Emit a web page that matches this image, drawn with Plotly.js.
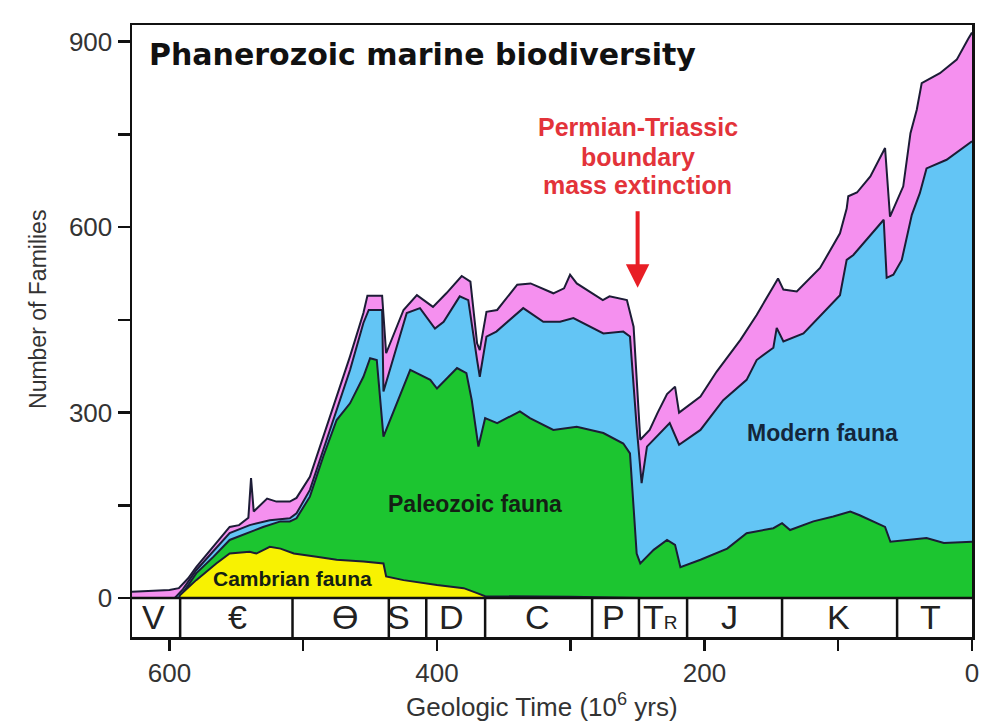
<!DOCTYPE html>
<html>
<head>
<meta charset="utf-8">
<script src="https://cdn.plot.ly/plotly-3.0.1.min.js"></script>
<style>html,body{margin:0;padding:0;background:#fff;}#chart{width:985px;height:724px;}</style>
</head>
<body>
<div id="chart"></div>
<script>
// Age in millions of years before present (x) and cumulative number of families (y)
// Top of the total (all faunas incl. unclassified, pink)
const totalAge = [628,600,593,586,580,567,555,548,541,539,537,527,520,510,505,495,485,475,465,455,452,441,438,425,415,403,393,381.5,375,370,368,363,355,340,330,313,305,300.5,295.5,276,271,258,253,248,241,235,228,222,219,203,191,173,161,148.5,145,141,131,113.6,98.7,93.7,92.5,86,76,65,61.3,51.4,46,41.3,37.6,24,11.4,2.7,0];
const totalTop = [10,13,16,32,50,83,115,118,130,194,140,161,156,156,162,196,261,326,391,461,489,489,396,466,490,471,493,521,512,412,401,463,466,507,509,493,501,523,509,482,488,482,439,256,272,300,330,342,300,326,366,418,458,504,517,499,496,534,590,630,650,656,682,728,617,666,752,790,833,849,871,905,915];

// Top of the Modern fauna (blue), cumulative
const modernAge = [596,590,580,567,555,540,525,510,505,495,485,475,465,455,451,441,440,422.6,412.7,401.5,395,383,376.6,370,368,363,355.6,335.5,320.5,308,298,275.6,260.7,255.7,250.7,247,243,226,219,203,186,168.5,161,148.5,146,141,126,98.7,93.7,88.7,66,63.8,58.8,52.5,45,39,34,19,0];
const modernTop = [0,14,45,76,105,118,126,129,137,175,240,304,369,445,466,466,334,461,469,436,447,488,482,385,358,423,431,469,447,447,453,428,431,423,277,186,245,283,248,272,320,353,385,405,437,415,428,490,547,555,612,518,523,547,620,655,695,709,739];

// Top of the Paleozoic fauna (green), cumulative
const paleoAge = [592,590,580,567,555,542,530,517,510,505,495,485,475,465,455,450,445,440,420,405,400,385,378,374,369,364,355,338,330.5,313,295.5,275.6,260.7,255.7,250.7,248,238,228,222,218,203,183,168.5,148.5,142,136,118.6,103.7,91,84,65,61,46,34,21,0];
const paleoTop = [0,8,40,67,94,105,115,124,124,129,164,229,288,315,358,388,385,261,369,353,339,372,364,320,245,291,283,302,291,272,277,267,250,234,72,56,78,94,86,50,62,80,105,113,121,110,124,132,140,134,115,91,94,97,89,91];

// Top of the Cambrian fauna (yellow)
const cambAge = [593,592,580,565,555,540,535,525,517,507,490,475,455,440,438,425,400,380,370,364,300,250,248];
const cambTop = [0,5,29,56,72,75,72,83,80,72,67,62,59,56,35,29,21,16,8,3,2,1,0];

// Geologic periods: boundaries (Myr) and symbols
const periodBounds = [592,508,436,408,364,284,249,213,142,56];
const periodCenters = [612,549.5,469,428.5,389.5,325,268,233,181,100,31];
const periodLabels = ['V','\u20AC','\u019F','S','D','C','P','T<span style="font-size:19px">R</span>','J','K','T'];

const faunaNames = ['Cambrian fauna','Paleozoic fauna','Modern fauna'];
const faunaLabelPos = [[507.7,31],[371.6,152],[111.4,267]];
const faunaLabelSize = [21,23,23];

const redLines = ['Permian-Triassic','boundary','mass extinction'];
const redY = [762,714,668];

const edge = '#1c1c36';
function area(x, y, fill, name){
  return {x:x, y:y, type:'scatter', mode:'lines', fill:'tozeroy', fillcolor:fill,
    line:{color:edge, width:2}, name:name, hoverinfo:'skip', showlegend:false};
}
const data = [
  area(totalAge,totalTop,'#f590ef','Total'),
  area(modernAge,modernTop,'#63c5f5','Modern'),
  area(paleoAge,paleoTop,'#1cc530','Paleozoic'),
  area(cambAge,cambTop,'#f8f201','Cambrian')
];

const axisFont = {family:'Liberation Sans, Arial, sans-serif', size:26, color:'#333'};
const shapes = [{type:'line', xref:'x', yref:'y', x0:628, x1:0, y0:0, y1:0, line:{color:'#111', width:2.5}}];
periodBounds.forEach(b => shapes.push({type:'line', xref:'x', yref:'y', x0:b, x1:b, y0:-63, y1:0, line:{color:'#111', width:2.5}}));

const annotations = [];
periodLabels.forEach((t,i) => annotations.push({x:periodCenters[i], y:-31, xref:'x', yref:'y', text:t, showarrow:false,
  font:{family:'Liberation Sans, DejaVu Sans, sans-serif', size:34, color:'#222'}, xanchor:'center', yanchor:'middle'}));

faunaNames.forEach((t,i) => annotations.push({x:faunaLabelPos[i][0], y:faunaLabelPos[i][1], xref:'x', yref:'y', text:'<b>'+t+'</b>',
  showarrow:false, font:{family:'Liberation Sans, Arial, sans-serif', size:faunaLabelSize[i], color: i===2 ? '#14263a' : '#142014'},
  xanchor:'center', yanchor:'middle'}));

annotations.push({x:0.018, y:0.951, xref:'paper', yref:'paper', text:'<b>Phanerozoic marine biodiversity</b>', showarrow:false,
  font:{family:'DejaVu Sans, sans-serif', size:30, color:'#111'}, xanchor:'left', yanchor:'middle'});

redLines.forEach((t,i) => annotations.push({x:250, y:redY[i], xref:'x', yref:'y', text:'<b>'+t+'</b>', showarrow:false,
  font:{family:'Liberation Sans, Arial, sans-serif', size:25, color:'#e3333a'}, xanchor:'center', yanchor:'middle'}));
annotations.push({x:250, y:502, xref:'x', yref:'y', text:'', showarrow:true, ax:0, ay:-78, arrowhead:2, arrowsize:1.17,
  arrowwidth:4, arrowcolor:'#e81e25', standoff:0});

annotations.push({x:0, y:466, xref:'paper', yref:'y', xshift:-94, text:'Number of Families', textangle:-90, showarrow:false,
  font:{family:'Liberation Sans, Arial, sans-serif', size:23, color:'#333'}, xanchor:'center', yanchor:'middle'});
annotations.push({x:0.488, y:0, xref:'paper', yref:'paper', yshift:-68, text:'Geologic Time (10<sup>6</sup> yrs)', showarrow:false,
  font:{family:'Liberation Sans, Arial, sans-serif', size:26, color:'#333'}, xanchor:'center', yanchor:'middle'});

const layout = {
  width:985, height:724,
  margin:{l:132, r:13, t:25, b:87},
  paper_bgcolor:'#fff', plot_bgcolor:'#fff',
  xaxis:{range:[628,0], showline:true, mirror:true, linecolor:'#111', linewidth:2.5, ticks:'outside', ticklen:11, tickwidth:2.5,
    tickcolor:'#111', tickvals:[600,500,400,300,200,100,0], ticktext:['600','','400','','200','','0'],
    showgrid:false, zeroline:false, tickfont:axisFont},
  yaxis:{range:[-63,927], showline:true, mirror:true, linecolor:'#111', linewidth:2.5, ticks:'outside', ticklen:12, tickwidth:2.5,
    tickcolor:'#111', tickvals:[0,150,300,450,600,750,900], ticktext:['0','','300','','600','','900'],
    showgrid:false, zeroline:false, tickfont:axisFont},
  shapes:shapes, annotations:annotations, showlegend:false
};
Plotly.newPlot('chart', data, layout, {displayModeBar:false, staticPlot:true});
</script>
</body>
</html>
